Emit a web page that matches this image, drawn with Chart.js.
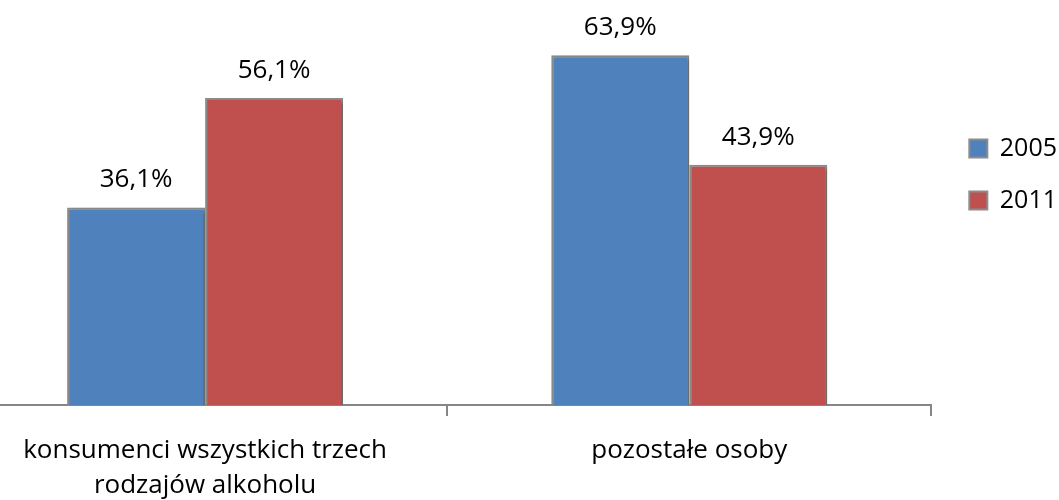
<!DOCTYPE html>
<html>
<head>
<meta charset="utf-8">
<script src="https://cdn.jsdelivr.net/npm/chart.js@4.4.0/dist/chart.umd.min.js"></script>
<style>
  html, body { margin: 0; padding: 0; background: #fff; overflow: hidden; width: 1059px; height: 500px; }
  #wrap { position: absolute; left: -37px; top: 0; height: 500px; }
</style>
</head>
<body>
<div id="wrap"><canvas id="wykres"></canvas></div>
<script>
// dane z wykresu
const kategorie = [['konsumenci wszystkich trzech', 'rodzajów alkoholu'], 'pozostałe osoby'];
const lata = ['2005', '2011'];
const wartosci2005 = [36.1, 63.9];
const wartosci2011 = [56.1, 43.9];
const kolory = ['#4F81BD', '#C0504D'];

const czcionka = '"Open Sans", Lato, sans-serif';
const rozmiar = 26;
const prawyBrzeg = 968; // prawa krawedz obszaru wykresu w canvasie (931px na stronie)

let szerCanvas = 1140;
const canvas = document.getElementById('wykres');
const wrap = document.getElementById('wrap');
canvas.width = szerCanvas;
canvas.height = 500;
wrap.style.width = szerCanvas + 'px';

// cien pod slupkami
const cien = {
  id: 'cien',
  beforeDatasetsDraw(chart) {
    const c = chart.ctx;
    c.save();
    c.shadowColor = 'rgba(0,0,0,0.3)';
    c.shadowBlur = 4;
    c.shadowOffsetX = 3;
    c.shadowOffsetY = 2;
  },
  afterDatasetsDraw(chart) {
    chart.ctx.restore();
  }
};

// etykiety wartosci nad slupkami
const etykiety = {
  id: 'etykiety',
  afterDatasetsDraw(chart) {
    const ctx = chart.ctx;
    ctx.save();
    ctx.font = rozmiar + 'px ' + czcionka;
    ctx.fillStyle = '#000';
    ctx.textAlign = 'center';
    ctx.textBaseline = 'alphabetic';
    chart.data.datasets.forEach((ds, i) => {
      chart.getDatasetMeta(i).data.forEach((bar, j) => {
        ctx.fillText(ds.data[j].toFixed(1).replace('.', ',') + '%', bar.x, bar.y - 20);
      });
    });
    ctx.restore();
  }
};

const wykres = new Chart(canvas, {
  type: 'bar',
  data: {
    labels: kategorie,
    datasets: [
      { label: lata[0], data: wartosci2005, backgroundColor: kolory[0], borderColor: '#8c8c8c', borderWidth: 2 },
      { label: lata[1], data: wartosci2011, backgroundColor: kolory[1], borderColor: '#8c8c8c', borderWidth: 2 }
    ]
  },
  options: {
    responsive: false,
    maintainAspectRatio: false,
    animation: false,
    events: [],
    devicePixelRatio: 1,
    layout: { padding: 0 },
    datasets: {
      bar: { categoryPercentage: 0.57, barPercentage: 1 }
    },
    scales: {
      x: {
        grid: { offset: true, drawOnChartArea: false, drawTicks: true, tickLength: 11, color: '#868686', lineWidth: 2 },
        border: { color: '#868686', width: 2 },
        ticks: {
          color: '#000',
          font: { family: czcionka, size: rozmiar, lineHeight: 1.35 },
          padding: 17,
          maxRotation: 0,
          autoSkip: false
        },
        afterFit(s) { s.height = 95; }
      },
      y: {
        position: 'right',
        min: 0,
        max: 74,
        grid: { display: false },
        border: { display: false },
        ticks: { display: false },
        afterFit(s) { s.width = 11; }
      }
    },
    plugins: {
      tooltip: { enabled: false },
      legend: {
        position: 'right',
        align: 'start',
        title: { display: true, text: '', font: { size: 10, lineHeight: 1 }, padding: { top: 99, bottom: 0 } },
        labels: {
          boxWidth: 18,
          boxHeight: 18,
          padding: 27,
          color: '#000',
          font: { family: czcionka, size: 25 }
        }
      }
    }
  },
  plugins: [cien, etykiety]
});

// dopasowanie szerokosci canvasu, zeby os konczyla sie tam gdzie w oryginale
const roznica = Math.round(wykres.chartArea.right - prawyBrzeg);
if (roznica !== 0) {
  szerCanvas -= roznica;
  wrap.style.width = szerCanvas + 'px';
  wykres.resize(szerCanvas, 500);
}
</script>
</body>
</html>
